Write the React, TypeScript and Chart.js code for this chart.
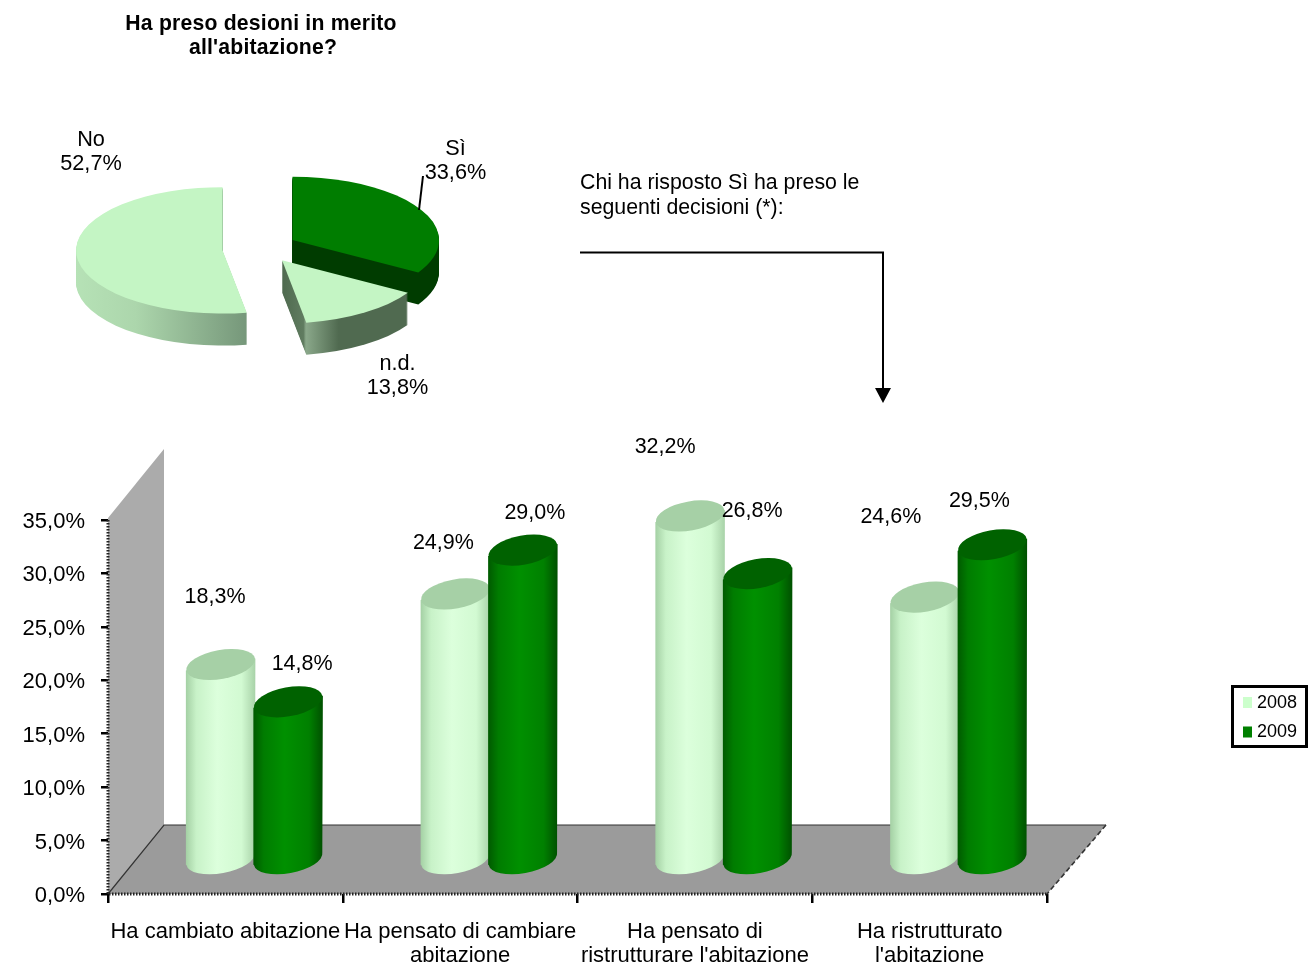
import React, { useEffect, useRef } from "react";
import { Chart, registerables } from "chart.js";

Chart.register(...registerables);

const categories = [
  "Ha cambiato abitazione",
  ["Ha pensato di cambiare", "abitazione"],
  ["Ha pensato di", "ristrutturare l'abitazione"],
  ["Ha ristrutturato", "l'abitazione"],
];
const series2008 = [18.3, 24.9, 32.2, 24.6];
const series2009 = [14.8, 29.0, 26.8, 29.5];
const pieLabels = ["Sì", "n.d.", "No"];
const pieValues = [33.6, 13.8, 52.7];
const yTicksMax = 35;
const yTicksStep = 5;

const FONT = '"Liberation Sans", Arial, sans-serif';
const fmt = (v: number) => v.toFixed(1).replace(".", ",") + "%";

// layout of the pseudo-3D scene (not data)
const BAR_SHIFT = { x: 29, y: -34 };
const WALL = { x: 56, y: -69 };
const CAP_RY = 14.5;
const TILT = -0.18;
const labelNudges = [
  [[-5.6, -67.4], [-12, -51], [-25, -69], [-34, -80]],
  [[14, -38], [12, -37], [-5.5, -62.6], [-13, -43.8]],
];
const barPalettes = [
  { stops: ["#a4d0a4", "#c8f2c8", "#dcffdc", "#d2fad2", "#a8d2a8"], cap: "#a6d0a6" },
  { stops: ["#005a00", "#007c00", "#009000", "#008000", "#005000"], cap: "#006200" },
];

const scenePlugin = {
  id: "scene",
  beforeDatasetsDraw(chart: any) {
    const { ctx, chartArea: a } = chart;
    ctx.save();
    ctx.fillStyle = "#ababab";
    ctx.beginPath();
    ctx.moveTo(a.left, a.top - 2);
    ctx.lineTo(a.left + WALL.x, a.top + WALL.y - 2);
    ctx.lineTo(a.left + WALL.x, a.bottom + WALL.y);
    ctx.lineTo(a.left, a.bottom);
    ctx.closePath();
    ctx.fill();
    ctx.fillStyle = "#9b9b9b";
    ctx.beginPath();
    ctx.moveTo(a.left, a.bottom);
    ctx.lineTo(a.left + WALL.x, a.bottom + WALL.y);
    ctx.lineTo(a.right + WALL.x + 3, a.bottom + WALL.y);
    ctx.lineTo(a.right, a.bottom);
    ctx.closePath();
    ctx.fill();
    ctx.strokeStyle = "#333";
    ctx.lineWidth = 1.2;
    ctx.beginPath();
    ctx.moveTo(a.left, a.bottom);
    ctx.lineTo(a.left + WALL.x, a.bottom + WALL.y);
    ctx.lineTo(a.right + WALL.x + 3, a.bottom + WALL.y);
    ctx.stroke();
    ctx.setLineDash([5, 3]);
    ctx.lineWidth = 1.6;
    ctx.beginPath();
    ctx.moveTo(a.right + WALL.x + 3, a.bottom + WALL.y);
    ctx.lineTo(a.right, a.bottom);
    ctx.stroke();
    ctx.setLineDash([1.5, 1.5]);
    ctx.lineWidth = 3;
    ctx.strokeStyle = "#222";
    ctx.beginPath();
    ctx.moveTo(a.left, a.top);
    ctx.lineTo(a.left, a.bottom);
    ctx.lineTo(a.right, a.bottom);
    ctx.stroke();
    ctx.restore();
  },
  afterDatasetsDraw(chart: any) {
    const { ctx } = chart;
    chart.data.datasets.forEach((ds: any, di: number) => {
      const pal = barPalettes[di];
      chart.getDatasetMeta(di).data.forEach((el: any) => {
        const cx = el.x + BAR_SHIFT.x;
        const top = el.y + BAR_SHIFT.y;
        const base = el.base + BAR_SHIFT.y;
        const rx = el.width / 2 + 1;
        const g = ctx.createLinearGradient(cx - rx, 0, cx + rx, 0);
        pal.stops.forEach((c: string, k: number) => {
          g.addColorStop([0, 0.15, 0.45, 0.8, 1][k], c);
        });
        ctx.save();
        ctx.fillStyle = g;
        ctx.beginPath();
        ctx.moveTo(cx - rx, top + 6);
        ctx.lineTo(cx - rx, base + 6);
        ctx.ellipse(cx, base, rx, CAP_RY, TILT, Math.PI, 0, true);
        ctx.lineTo(cx + rx, top - 6);
        ctx.closePath();
        ctx.fill();
        ctx.fillStyle = pal.cap;
        ctx.beginPath();
        ctx.ellipse(cx, top, rx, CAP_RY, TILT, 0, Math.PI * 2);
        ctx.fill();
        ctx.restore();
      });
    });
    // value labels
    ctx.save();
    ctx.font = `21.5px ${FONT}`;
    ctx.fillStyle = "#000";
    ctx.textAlign = "center";
    ctx.textBaseline = "middle";
    chart.data.datasets.forEach((ds: any, di: number) => {
      chart.getDatasetMeta(di).data.forEach((el: any, i: number) => {
        const [nx, ny] = labelNudges[di][i];
        ctx.fillText(fmt(ds.data[i]), el.x + BAR_SHIFT.x + nx, el.y + BAR_SHIFT.y + ny);
      });
    });
    ctx.restore();
    // legend
    ctx.save();
    ctx.strokeStyle = "#000";
    ctx.lineWidth = 3;
    ctx.strokeRect(1232.5, 686.5, 74, 60);
    ctx.font = `18px ${FONT}`;
    ctx.textAlign = "left";
    ctx.textBaseline = "middle";
    chart.data.datasets.forEach((ds: any, di: number) => {
      const y = 703 + di * 29.5;
      ctx.fillStyle = ds.legendColor;
      ctx.fillRect(1243, y - 6, 9, 11);
      ctx.fillStyle = "#000";
      ctx.fillText(ds.label, 1257, y);
    });
    ctx.restore();
  },
};

// pseudo-3D exploded pie; the angles come from the library's arc elements
const PIE_K = 0.4315;
const PIE_DEPTH = 32;
const PIE_EXPLODE = 37.5;
const pieDrawOrder = [2, 0, 1];
const pieSliceNudge = [
  [0, -1],
  [1, -2],
  [0, 0],
];
const pieStyles = [
  { top: "#007d00", side: [[0, "#003c00"], [1, "#003c00"]] },
  {
    top: "#c4f5c4",
    side: [[0, "#4f6a4f"], [0.17, "#607c60"], [0.19, "#8aa88a"], [0.45, "#506a50"], [1, "#506a50"]],
  },
  { top: "#c4f5c4", side: [[0, "#b6e2b6"], [0.35, "#acd6ac"], [1, "#76977a"]] },
];
const piePlugin = {
  id: "pie3d",
  afterDatasetsDraw(chart: any) {
    const { ctx } = chart;
    const arcs = chart.getDatasetMeta(0).data;
    pieDrawOrder.forEach((i) => {
      const el = arcs[i];
      const mid = (el.startAngle + el.endAngle) / 2;
      const R = el.outerRadius;
      const cx = el.x + Math.cos(mid) * PIE_EXPLODE + pieSliceNudge[i][0];
      const cy = el.y + Math.sin(mid) * PIE_EXPLODE * PIE_K + pieSliceNudge[i][1];
      const path = (dy: number) => {
        ctx.beginPath();
        ctx.moveTo(cx, cy + dy);
        ctx.ellipse(cx, cy + dy, R, R * PIE_K, 0, el.startAngle, el.endAngle);
        ctx.closePath();
      };
      const xs = [0, Math.cos(el.startAngle) * R, Math.cos(el.endAngle) * R];
      for (let a = -Math.PI; a < Math.PI * 2; a += Math.PI / 2) {
        if (a >= el.startAngle && a <= el.endAngle) xs.push(Math.cos(a) * R);
      }
      const x0 = cx + Math.min(...xs);
      const x1 = cx + Math.max(...xs);
      const g = ctx.createLinearGradient(x0, 0, x1, 0);
      pieStyles[i].side.forEach(([p, c]: any) => g.addColorStop(p, c));
      ctx.save();
      ctx.fillStyle = g;
      for (let d = PIE_DEPTH; d >= 1; d--) {
        path(d);
        ctx.fill();
      }
      ctx.fillStyle = pieStyles[i].top;
      path(0);
      ctx.fill();
      ctx.restore();
    });
  },
};

const pieTextPos = [
  [455.5, 160],
  [397.5, 375],
  [91, 151],
];

const textStyle: React.CSSProperties = {
  position: "absolute",
  transform: "translate(-50%,-50%)",
  textAlign: "center",
  fontFamily: FONT,
  fontSize: 21.7,
  lineHeight: "24px",
  whiteSpace: "nowrap",
  color: "#000",
};

export default function App() {
  const barRef = useRef<HTMLCanvasElement>(null);
  const pieRef = useRef<HTMLCanvasElement>(null);

  useEffect(() => {
    const bar = new Chart(barRef.current!, {
      type: "bar",
      data: {
        labels: categories as any,
        datasets: [
          { label: "2008", data: series2008, backgroundColor: "transparent", legendColor: "#ccffcc" } as any,
          { label: "2009", data: series2009, backgroundColor: "transparent", legendColor: "#008000" } as any,
        ],
      },
      options: {
        responsive: false,
        animation: false,
        layout: { padding: { left: 0, right: 268, top: 520, bottom: 0 } },
        plugins: { legend: { display: false }, tooltip: { enabled: false } },
        datasets: { bar: { categoryPercentage: 0.575, barPercentage: 1 } },
        scales: {
          x: {
            afterFit: (s: any) => {
              s.height = 71;
            },
            grid: { drawOnChartArea: false, tickLength: 9, color: "#000", lineWidth: 2.5 },
            border: { display: false },
            ticks: {
              color: "#000",
              font: { family: FONT, size: 22, lineHeight: 1.1 },
              padding: 17,
              maxRotation: 0,
              minRotation: 0,
              autoSkip: false,
            },
          },
          y: {
            min: 0,
            max: yTicksMax,
            afterFit: (s: any) => {
              s.width = 108;
            },
            grid: { drawOnChartArea: false, tickLength: 7, color: "#000", lineWidth: 2.5 },
            border: { display: false },
            ticks: {
              stepSize: yTicksStep,
              color: "#000",
              font: { family: FONT, size: 22 },
              padding: 16,
              labelOffset: 2,
              callback: (v: any) => fmt(Number(v)),
            },
          },
        },
      },
      plugins: [scenePlugin],
    });

    const pie = new Chart(pieRef.current!, {
      type: "pie",
      data: {
        labels: pieLabels,
        datasets: [
          {
            data: pieValues,
            backgroundColor: "transparent",
            borderWidth: 0,
          },
        ],
      },
      options: {
        responsive: false,
        animation: false,
        layout: { padding: { left: 113.4, right: 1315 - 406.4, top: 102.5, bottom: 450 - 395.5 } },
        plugins: { legend: { display: false }, tooltip: { enabled: false } },
      },
      plugins: [piePlugin],
    });

    return () => {
      bar.destroy();
      pie.destroy();
    };
  }, []);

  return (
    <div style={{ position: "absolute", left: 0, top: 0, width: 1315, height: 965, overflow: "hidden", background: "#fff" }}>
      <canvas ref={barRef} width={1315} height={965} style={{ position: "absolute", left: 0, top: 0 }} />
      <canvas ref={pieRef} width={1315} height={450} style={{ position: "absolute", left: 0, top: 0 }} />
      <svg width={1315} height={450} style={{ position: "absolute", left: 0, top: 0 }}>
        <path d="M423 176 L419 210" stroke="#000" strokeWidth={2} fill="none" />
        <path d="M580 252.5 H883 V390" stroke="#000" strokeWidth={2} fill="none" />
        <path d="M875 388 H891 L883 403 Z" fill="#000" />
      </svg>
      <div style={{ ...textStyle, left: 261, top: 34.5, fontWeight: "bold", fontSize: 21.2, letterSpacing: 0.2 }}>
        Ha preso desioni in merito
        <br />
        <span style={{ position: "relative", left: 2 }}>all'abitazione?</span>
      </div>
      {pieLabels.map((l, i) => (
        <div key={l} style={{ ...textStyle, left: pieTextPos[i][0], top: pieTextPos[i][1] }}>
          {l}
          <br />
          {fmt(pieValues[i])}
        </div>
      ))}
      <div style={{ ...textStyle, transform: "translateY(-50%)", textAlign: "left", left: 580, top: 194.5, fontSize: 21.3, lineHeight: "25px" }}>
        Chi ha risposto Sì ha preso le
        <br />
        seguenti decisioni (*):
      </div>
    </div>
  );
}
